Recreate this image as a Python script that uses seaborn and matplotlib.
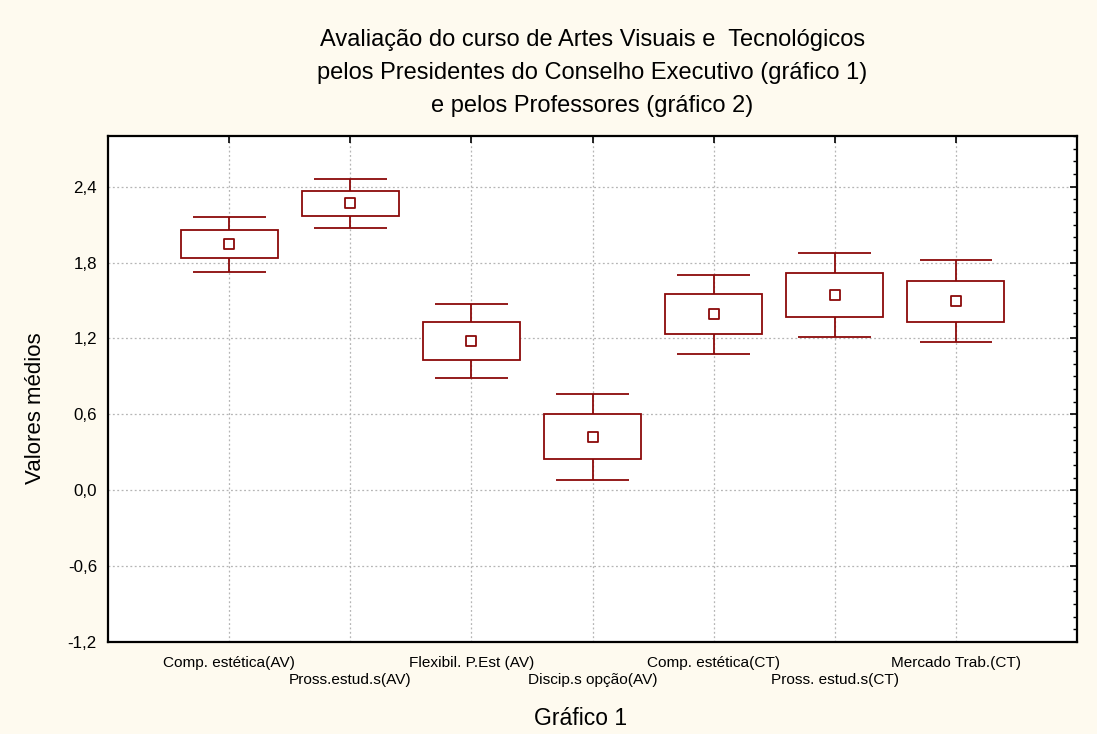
import numpy as np
import pandas as pd
import matplotlib
matplotlib.use('Agg')
import matplotlib.pyplot as plt
from matplotlib.ticker import MultipleLocator, FuncFormatter
import seaborn as sns

# valores (média, caixa e bigodes)
categorias = ['Comp. estética(AV)', 'Pross.estud.s(AV)', 'Flexibil. P.Est (AV)',
              'Discip.s opção(AV)', 'Comp. estética(CT)', 'Pross. estud.s(CT)',
              'Mercado Trab.(CT)']
medias = [1.947, 2.270, 1.183, 0.418, 1.391, 1.542, 1.495]
caixa_sup = [2.058, 2.368, 1.331, 0.601, 1.553, 1.717, 1.653]
caixa_inf = [1.839, 2.167, 1.032, 0.246, 1.233, 1.373, 1.333]
bigode_sup = [2.161, 2.460, 1.471, 0.760, 1.704, 1.873, 1.818]
bigode_inf = [1.722, 2.069, 0.889, 0.079, 1.079, 1.214, 1.169]

df = pd.DataFrame({
    'categoria': categorias,
    'media': medias,
    'cx_sup': caixa_sup,
    'cx_inf': caixa_inf,
    'bg_sup': bigode_sup,
    'bg_inf': bigode_inf,
})
df['pos'] = np.arange(len(df))

sns.set_style('white')
plt.rcParams['font.family'] = ['Liberation Sans', 'DejaVu Sans']
plt.rcParams['text.color'] = 'black'
plt.rcParams['axes.labelcolor'] = 'black'
plt.rcParams['xtick.color'] = 'black'
plt.rcParams['ytick.color'] = 'black'

vermelho = '#8B0A0A'
fundo = '#FEFAEF'

fig = plt.figure(figsize=(10.97, 7.34), dpi=100, facecolor=fundo)
ax = fig.add_axes([0.0985, 0.1253, 0.8833, 0.6894])
ax.set_facecolor('white')

# caixas
ax.bar(df['pos'], df['cx_sup'] - df['cx_inf'], bottom=df['cx_inf'], width=0.8,
       facecolor='white', edgecolor=vermelho, linewidth=1.3, zorder=3)

# bigodes
ax.vlines(df['pos'], df['cx_sup'], df['bg_sup'], color=vermelho, linewidth=1.3, zorder=3)
ax.vlines(df['pos'], df['bg_inf'], df['cx_inf'], color=vermelho, linewidth=1.3, zorder=3)
ax.hlines(df['bg_sup'], df['pos'] - 0.3, df['pos'] + 0.3, color=vermelho, linewidth=1.3, zorder=3)
ax.hlines(df['bg_inf'], df['pos'] - 0.3, df['pos'] + 0.3, color=vermelho, linewidth=1.3, zorder=3)

# médias
sns.scatterplot(data=df, x='pos', y='media', marker='s', s=62, facecolor='white',
                edgecolor=vermelho, linewidth=1.3, zorder=4, ax=ax, legend=False)

ax.set_xlim(-1, 7)
ax.set_ylim(-1.2, 2.8)

rotulos = [c if i % 2 == 0 else '\n' + c for i, c in enumerate(categorias)]
ax.set_xticks(df['pos'])
ax.set_xticklabels(rotulos, fontsize=11.1, linespacing=1.3)
ax.set_yticks([-1.2, -0.6, 0.0, 0.6, 1.2, 1.8, 2.4])
ax.yaxis.set_major_formatter(FuncFormatter(lambda v, p: f'{v:.1f}'.replace('.', ',')))
ax.yaxis.set_minor_locator(MultipleLocator(0.1))
ax.tick_params(axis='y', labelsize=12.2, pad=8)

ax.tick_params(which='both', direction='in', top=True, right=True, color='black')
ax.tick_params(which='major', length=5, width=1.2)
ax.tick_params(which='minor', length=3, width=1)
ax.tick_params(axis='x', pad=10)

ax.grid(True, which='major', linestyle=(0, (1.5, 2)), color='#b5b5b5', linewidth=0.9)
ax.set_axisbelow(True)
for s in ax.spines.values():
    s.set_color('black')
    s.set_linewidth(1.6)

ax.set_xlabel('Gráfico 1', fontsize=16.5)
ax.set_ylabel('Valores médios', fontsize=16)
ax.xaxis.set_label_coords(0.488, -0.128)
ax.yaxis.set_label_coords(-0.064, 0.462)

fig.text(0.54, 0.9005,
         'Avaliação do curso de Artes Visuais e  Tecnológicos\n'
         'pelos Presidentes do Conselho Executivo (gráfico 1)\n'
         'e pelos Professores (gráfico 2)',
         ha='center', va='center', fontsize=17, linespacing=1.66)

fig.savefig('out.png', dpi=100, facecolor=fundo)
